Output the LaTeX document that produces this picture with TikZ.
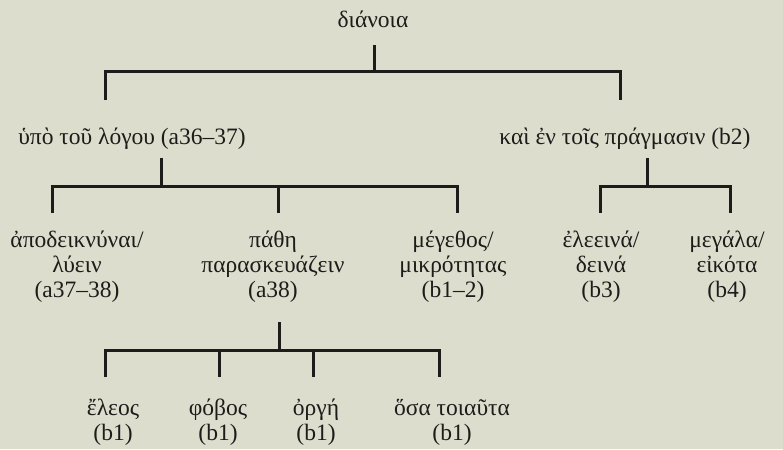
\documentclass[tikz,border=0pt]{standalone}
\usepackage{fontspec}
\setmainfont{Liberation Serif}
\definecolor{paper}{RGB}{221,221,206}
\definecolor{ink}{RGB}{28,28,26}
\tikzset{
  lbl/.style={anchor=base,inner sep=0pt,align=center,text=ink,
    font=\fontsize{23.5}{25}\selectfont},
  brace/.style={draw=ink,line width=3pt,line join=miter}
}

\begin{document}
\begin{tikzpicture}[x=1pt,y=-1pt]
      \fill[paper] (0,0) rectangle (783,449);
      % labels (base = last line)
      \node[lbl] (dianoia) at (373,28) {διάνοια};
      \node[lbl] (logos) at (132,145) {ὑπὸ τοῦ λόγου (a36–37)};
      \node[lbl] (pragma) at (625,145) {καὶ ἐν τοῖς πράγμασιν (b2)};
      \node[lbl] (apod) at (77,297) {ἀποδεικνύναι/\\λύειν\\(a37–38)};
      \node[lbl] (pathe) at (273,297) {πάθη\\παρασκευάζειν\\(a38)};
      \node[lbl] (megethos) at (453,297) {μέγεθος/\\μικρότητας\\(b1–2)};
      \node[lbl] (eleeina) at (601,297) {ἐλεεινά/\\δεινά\\(b3)};
      \node[lbl] (megala) at (727,297) {μεγάλα/\\εἰκότα\\(b4)};
      \node[lbl] (eleos) at (113,440) {ἔλεος\\(b1)};
      \node[lbl] (phobos) at (218,440) {φόβος\\(b1)};
      \node[lbl] (orge) at (316,440) {ὀργή\\(b1)};
      \node[lbl] (hosa) at (452,440) {ὅσα τοιαῦτα\\(b1)};
      % top bracket
      \coordinate (top-stem) at (374,45);
      \coordinate (top-bar) at (374,72);
      \coordinate (top-l) at (105,100);
      \coordinate (top-r) at (620,100);
      \draw[brace] (top-stem) -- (top-bar);
      \draw[brace] (top-l) -- (top-l |- top-bar) -- (top-r |- top-bar) -- (top-r);
      % bracket under logos
      \coordinate (log-stem) at (161,158);
      \coordinate (log-bar) at (161,186);
      \coordinate (log-l) at (52,213);
      \coordinate (log-m) at (278,213);
      \coordinate (log-r) at (457,213);
      \draw[brace] (log-stem) -- (log-bar);
      \draw[brace] (log-l) -- (log-l |- log-bar) -- (log-r |- log-bar) -- (log-r);
      \draw[brace] (log-m |- log-bar) -- (log-m);
      % bracket under pragma
      \coordinate (pra-stem) at (647,158);
      \coordinate (pra-bar) at (647,186);
      \coordinate (pra-l) at (600,213);
      \coordinate (pra-r) at (730,213);
      \draw[brace] (pra-stem) -- (pra-bar);
      \draw[brace] (pra-l) -- (pra-l |- pra-bar) -- (pra-r |- pra-bar) -- (pra-r);
      % bracket under pathe
      \coordinate (pat-stem) at (279,322);
      \coordinate (pat-bar) at (279,350);
      \coordinate (pat-a) at (105,377);
      \coordinate (pat-b) at (219,377);
      \coordinate (pat-c) at (313,377);
      \coordinate (pat-d) at (439,377);
      \draw[brace] (pat-stem) -- (pat-bar);
      \draw[brace] (pat-a) -- (pat-a |- pat-bar) -- (pat-d |- pat-bar) -- (pat-d);
      \draw[brace] (pat-b |- pat-bar) -- (pat-b);
      \draw[brace] (pat-c |- pat-bar) -- (pat-c);
\end{tikzpicture}
\end{document}
